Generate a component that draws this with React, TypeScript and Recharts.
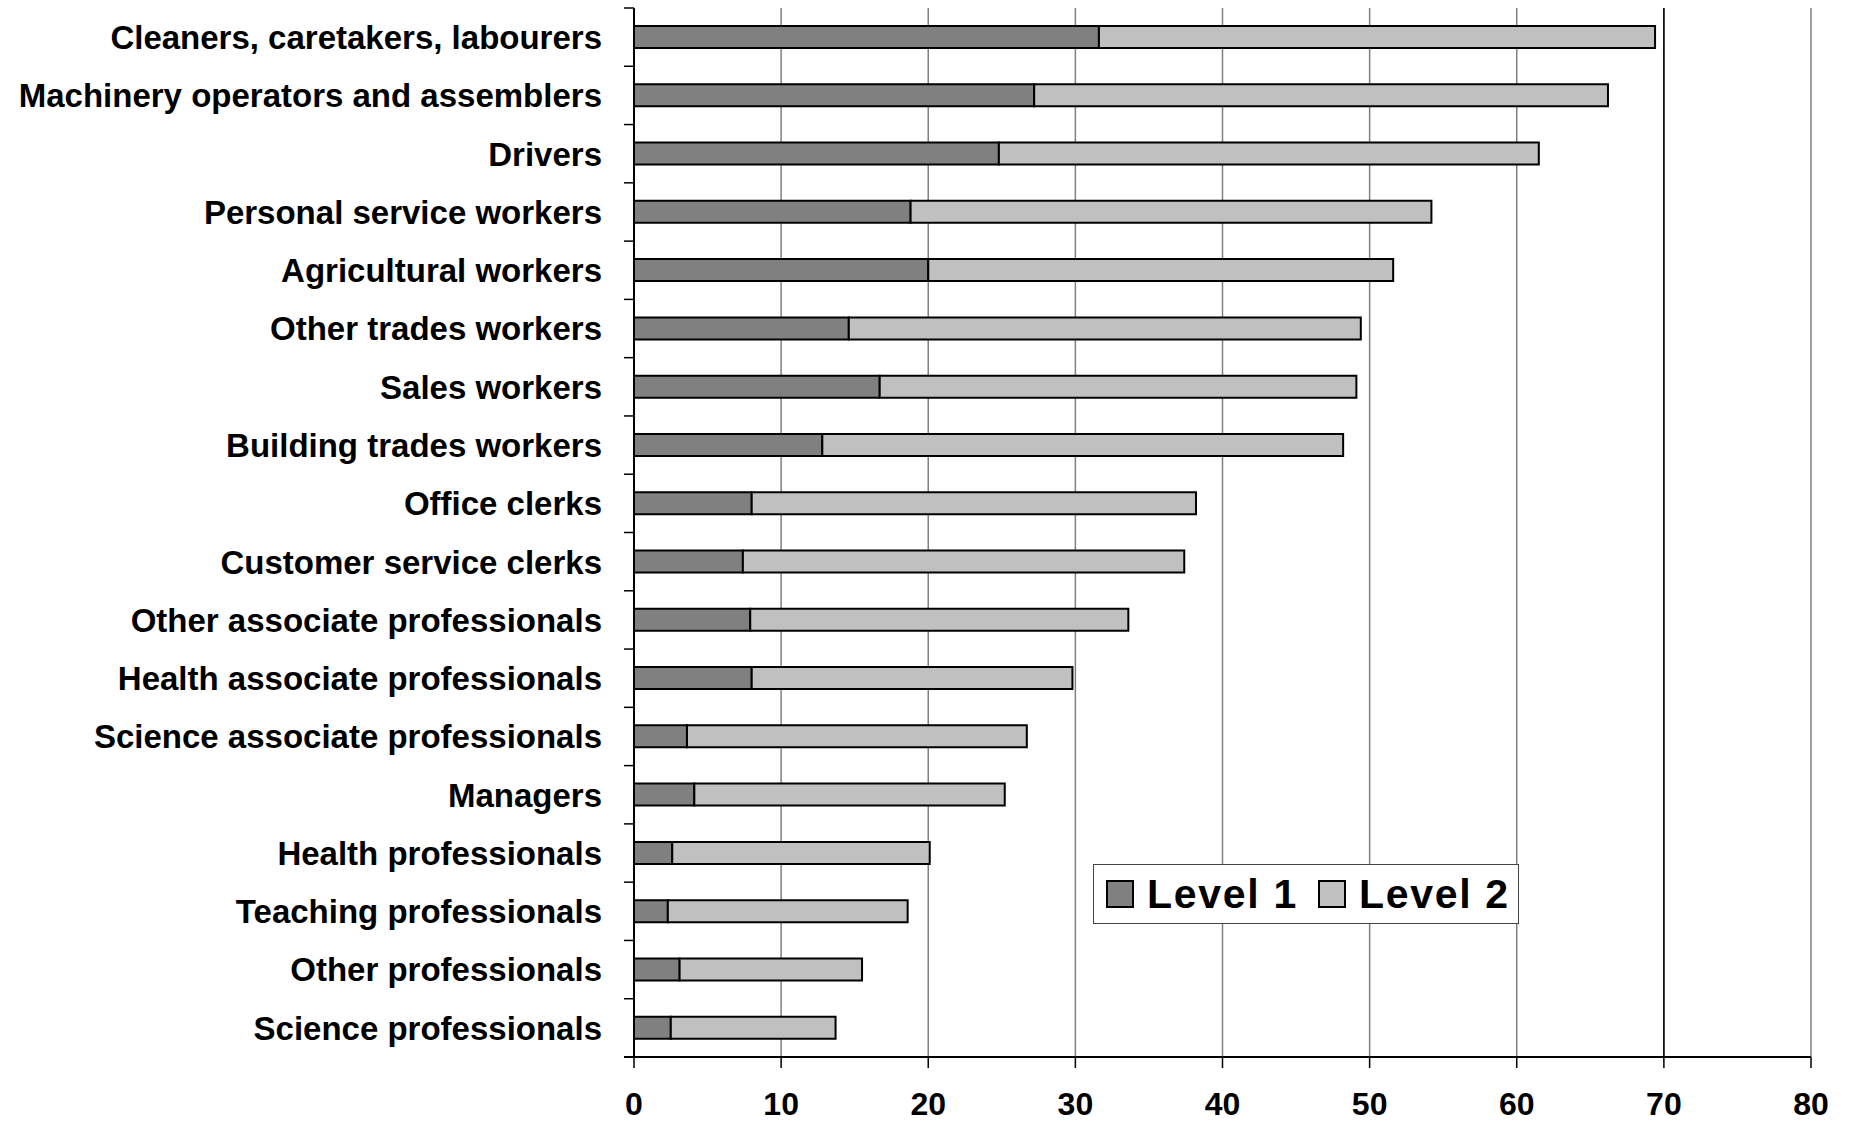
import React from 'react';
import { BarChart, Bar, XAxis, YAxis, CartesianGrid, ReferenceLine } from 'recharts';

const categories = [
  'Cleaners, caretakers, labourers',
  'Machinery operators and assemblers',
  'Drivers',
  'Personal service workers',
  'Agricultural workers',
  'Other trades workers',
  'Sales workers',
  'Building trades workers',
  'Office clerks',
  'Customer service clerks',
  'Other associate professionals',
  'Health associate professionals',
  'Science associate professionals',
  'Managers',
  'Health professionals',
  'Teaching professionals',
  'Other professionals',
  'Science professionals',
];

const level1 = [31.6, 27.2, 24.8, 18.8, 20.0, 14.6, 16.7, 12.8, 8.0, 7.4, 7.9, 8.0, 3.6, 4.1, 2.6, 2.3, 3.1, 2.5];
const level2 = [37.8, 39.0, 36.7, 35.4, 31.6, 34.8, 32.4, 35.4, 30.2, 30.0, 25.7, 21.8, 23.1, 21.1, 17.5, 16.3, 12.4, 11.2];

const xTicks = [0, 10, 20, 30, 40, 50, 60, 70, 80];
const seriesNames = ['Level 1', 'Level 2'];
const seriesColors = ['#808080', '#C0C0C0'];

const data = categories.map((name, i) => ({ name, level1: level1[i], level2: level2[i] }));

const FONT = '"Liberation Sans", Arial, Helvetica, sans-serif';
const W = 1849;
const H = 1122;
const M = { top: 8, right: 38, bottom: 0, left: 0 };
const YW = 634;
const XH = 65;
const PLOT_H = H - M.top - M.bottom - XH;
const BAND = PLOT_H / categories.length;
const TICK_MARGIN = 32;

const YTick = (props: any) => {
  const { x, y, payload, index } = props;
  const ax = x + TICK_MARGIN;
  const last = index === categories.length - 1;
  return (
    <g>
      <line x1={ax - 10} x2={ax} y1={y - BAND / 2} y2={y - BAND / 2} stroke="#000" strokeWidth={1.5} />
      {last && <line x1={ax - 10} x2={ax} y1={y + BAND / 2} y2={y + BAND / 2} stroke="#000" strokeWidth={2} />}
      <text x={x} y={y} dy="0.36em" textAnchor="end" fontFamily={FONT} fontWeight="bold" fontSize={33} fill="#000">
        {payload.value}
      </text>
    </g>
  );
};

const LegendBox = () => (
  <div
    style={{
      position: 'absolute',
      left: 1093,
      top: 864,
      width: 426,
      height: 60,
      border: '1.5px solid #444',
      background: '#fff',
      display: 'flex',
      alignItems: 'center',
      boxSizing: 'border-box',
      fontFamily: FONT,
      fontWeight: 'bold',
      fontSize: 41,
      letterSpacing: 1.7,
      color: '#000',
      paddingLeft: 12,
    }}
  >
    {seriesNames.map((n, i) => (
      <React.Fragment key={n}>
        <span
          style={{
            width: 24,
            height: 24,
            background: seriesColors[i],
            border: '2px solid #000',
            display: 'inline-block',
            marginLeft: i === 0 ? 0 : 20,
            flex: 'none',
          }}
        />
        <span style={{ marginLeft: 13, lineHeight: 1, whiteSpace: 'nowrap' }}>{n}</span>
      </React.Fragment>
    ))}
  </div>
);

export default function App() {
  return (
    <div style={{ position: 'absolute', left: 0, top: 0, width: W, height: H, background: '#fff' }}>
      <BarChart width={W} height={H} data={data} layout="vertical" margin={M} barSize={22}>
        <CartesianGrid horizontal={false} stroke="#808080" strokeWidth={1.5} />
        <XAxis
          type="number"
          domain={[0, 80]}
          ticks={xTicks}
          interval={0}
          height={XH}
          axisLine={{ stroke: '#000', strokeWidth: 2 }}
          tickLine={{ stroke: '#000', strokeWidth: 1.5 }}
          tickSize={11}
          tickMargin={24}
          tick={{ fontFamily: FONT, fontWeight: 'bold', fontSize: 32, fill: '#000' }}
        />
        <XAxis
          xAxisId="top"
          orientation="top"
          type="number"
          domain={[0, 80]}
          ticks={xTicks}
          height={0}
          tick={false}
          tickLine={false}
          axisLine={{ stroke: '#888888', strokeWidth: 2.5 }}
        />
        <YAxis
          type="category"
          dataKey="name"
          width={YW}
          interval={0}
          tickSize={0}
          tickMargin={TICK_MARGIN}
          tickLine={false}
          axisLine={{ stroke: '#000', strokeWidth: 2 }}
          tick={<YTick />}
        />
        <ReferenceLine x={70} stroke="#000" strokeWidth={1.5} />
        <Bar dataKey="level1" name="Level 1" stackId="a" fill={seriesColors[0]} stroke="#000" strokeWidth={2} isAnimationActive={false} />
        <Bar dataKey="level2" name="Level 2" stackId="a" fill={seriesColors[1]} stroke="#000" strokeWidth={2} isAnimationActive={false} />
      </BarChart>
      <LegendBox />
    </div>
  );
}
